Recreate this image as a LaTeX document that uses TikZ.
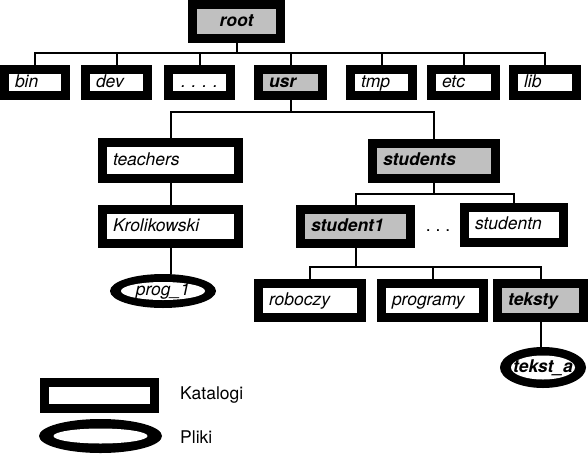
\documentclass[tikz,border=0pt]{standalone}
\usepackage{fontspec}
\usetikzlibrary{shapes.geometric}
\newfontfamily\helv{TeX Gyre Heros}
\definecolor{dirgray}{RGB}{192,192,192}
\tikzset{
  dirbox/.style={draw=black, line width=9pt, fill=white, inner xsep=10.5pt, inner ysep=0pt,
    text width=#1, align=left, text height=12.5pt, text depth=3pt,
    font=\helv\itshape\fontsize{17.5}{20}\selectfont},
  homebox/.style={dirbox=#1, fill=dirgray, font=\helv\bfseries\itshape\fontsize{17.5}{20}\selectfont},
  filebox/.style n args={4}{ellipse, fill=black, inner sep=0pt, minimum width=#1, minimum height=#2,
    font=\helv\itshape\fontsize{17.5}{20}\selectfont,
    path picture={\fill[white] (path picture bounding box.center) ellipse [x radius=#3, y radius=#4];}},
  link/.style={draw=black, line width=2pt}
}
\begin{document}
\begin{tikzpicture}[x=1pt,y=-1pt]
\useasboundingbox (0,0) rectangle (588,455);
% root
\node[homebox=67pt, align=center, minimum height=34pt] (root) at (236.5,21.5) {root};
% first level
\node[dirbox=40pt, minimum height=26pt] (bin) at (35,82.5) {bin};
\node[dirbox=41pt, minimum height=26pt] (dev) at (116.5,82.5) {dev};
\node[dirbox=41pt, minimum height=26pt, align=center] (dots) at (199.5,82.5) {\mbox{.~.~.~.}};
\node[homebox=43pt, minimum height=26pt] (usr) at (290.5,82.5) {usr};
\node[dirbox=41pt, minimum height=26pt] (tmp) at (381.5,82.5) {tmp};
\node[dirbox=43pt, minimum height=26pt] (etc) at (463.5,82.5) {etc};
\node[dirbox=42pt, minimum height=26pt] (lib) at (545,82.5) {lib};
% usr
\node[dirbox=115pt, minimum height=36pt] (teachers) at (170.5,160.5) {teachers};
\node[dirbox=115pt, minimum height=34pt] (krolikowski) at (170.5,226.5) {Krolikowski};
\node[filebox={106pt}{34pt}{42pt}{9pt}] (prog1) at (163,291) {\makebox[0pt]{prog\_1}};
\node[homebox=102pt, minimum height=35pt] (students) at (434,161) {students};
\node[homebox=89pt, minimum height=34pt] (student1) at (355.5,226.5) {student1};
\node[font=\helv\fontsize{17.5}{20}\selectfont, inner sep=0pt] (sdots) at (438,231) {.~.~.};
\node[dirbox=78pt, minimum height=35pt] (studentn) at (514,225) {studentn};
% student1
\node[dirbox=82pt, minimum height=34pt] (roboczy) at (310,300.5) {roboczy};
\node[dirbox=81pt, minimum height=34pt] (programy) at (432.5,300.5) {programy};
\node[homebox=65pt, minimum height=34pt] (teksty) at (540.5,300.5) {teksty};
\node[filebox={86pt}{41pt}{32pt}{12pt}, font=\helv\bfseries\itshape\fontsize{17.5}{20}\selectfont] (teksta) at (543,367.5) {\makebox[0pt]{tekst\_a}};
% legend
\node[dirbox=89pt, minimum height=26pt] (legdir) at (99.5,395.5) {};
\node[filebox={123pt}{34pt}{47pt}{7.5pt}] (legfile) at (100.5,436) {};
\node[anchor=west, inner sep=0pt, font=\helv\fontsize{17.5}{20}\selectfont] (katalogi) at (180,395) {Katalogi};
\node[anchor=west, inner sep=0pt, font=\helv\fontsize{17.5}{20}\selectfont] (pliki) at (180,437) {Pliki};

% connectors
\coordinate (rootbus) at (236.5,53);
\draw[link] (root.south) -- (rootbus);
\foreach \d in {bin,dev,dots,usr,tmp,etc,lib}
  \draw[link] (\d.north) |- (rootbus);
\coordinate (usrbus) at (290.5,112);
\draw[link] (usr.south) -- (usrbus);
\draw[link] (teachers.north) |- (usrbus);
\draw[link] (students.north) |- (usrbus);
\draw[link] (teachers) -- (krolikowski);
\draw[link] (krolikowski.south) -- (krolikowski.south |- prog1.north);
\coordinate (studbus) at (434,194);
\draw[link] (students.south) -- (studbus);
\draw[link] (student1.north) |- (studbus);
\draw[link] (studentn.north) |- (studbus);
\coordinate (s1bus) at (355.5,267);
\draw[link] (student1.south) -- (s1bus);
\foreach \d in {roboczy,programy,teksty}
  \draw[link] (\d.north) |- (s1bus);
\draw[link] (teksty.south) -- (teksty.south |- teksta.north);
\end{tikzpicture}
\end{document}
